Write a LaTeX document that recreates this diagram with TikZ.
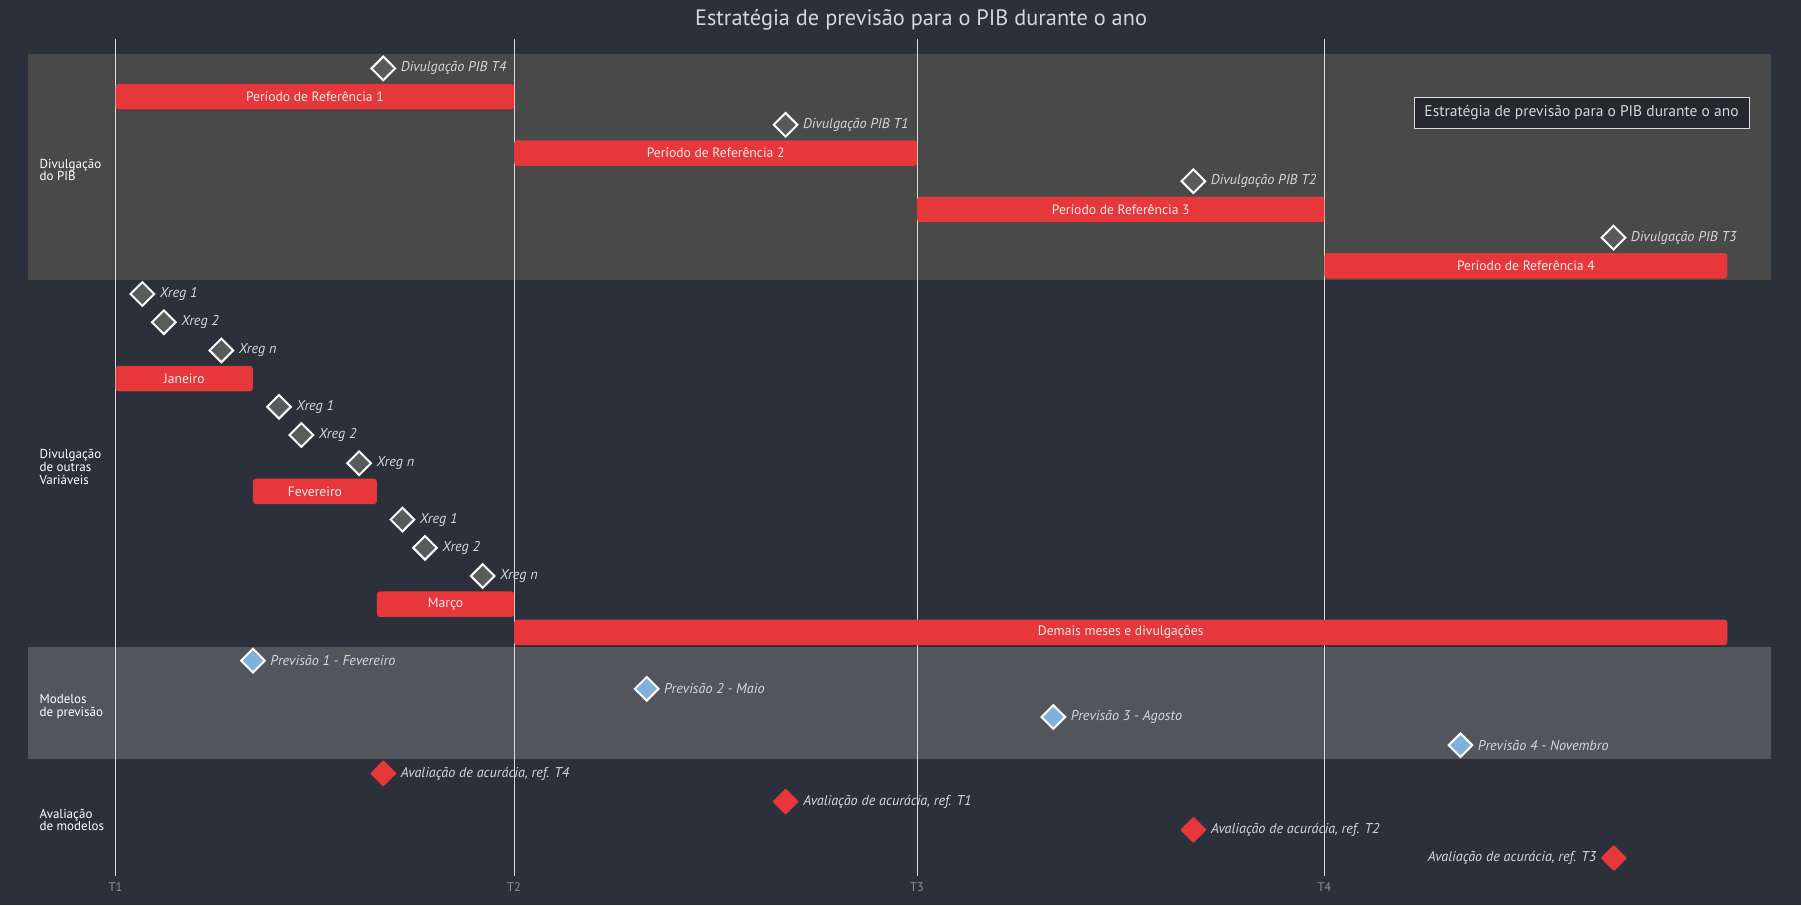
\documentclass[tikz,border=0pt]{standalone}
\usepackage{fontspec}
\setmainfont{PT Sans}
\usetikzlibrary{shapes.geometric,positioning}
\definecolor{fundo}{HTML}{2B303B}
\definecolor{secA}{HTML}{484948}
\definecolor{secC}{HTML}{52555C}
\definecolor{vermelho}{HTML}{E6373A}
\definecolor{cinzamarco}{HTML}{595A5C}
\definecolor{azulprev}{HTML}{80B0DC}
\definecolor{grade}{HTML}{DADADA}
\definecolor{textoclaro}{HTML}{D4D6DA}
\definecolor{eixo}{HTML}{8C8F96}
\definecolor{caixa}{HTML}{26282E}
\definecolor{textobarra}{HTML}{FBECEC}
\begin{document}
\begin{tikzpicture}[x=1pt, y=-1pt, every node/.style={font=\fontsize{12.5}{13}\selectfont}]
  \tikzstyle{barra}=[fill=vermelho,rounded corners=3pt,minimum height=25.5pt,inner sep=0pt,text=textobarra,font=\fontsize{13.6}{14}\selectfont]
  \tikzstyle{marco}=[diamond,draw=white,line width=2pt,fill=cinzamarco,minimum width=24.5pt,minimum height=24.5pt,inner sep=0pt]
  \tikzstyle{prev}=[marco,fill=azulprev]
  \tikzstyle{aval}=[diamond,fill=vermelho,minimum width=26.5pt,minimum height=26.5pt,inner sep=0pt,rounded corners=1pt]
  \tikzstyle{rotulo}=[text=textoclaro,inner sep=1pt,font=\fontsize{14.2}{15}\selectfont\itshape]
  \tikzstyle{secao}=[text=white,anchor=west,align=left,inner sep=0pt,font=\fontsize{13}{12.7}\selectfont]
  \useasboundingbox (0,0) rectangle (1801,905);
  \fill[fundo] (0,0) rectangle (1801,905);
  % faixas das secoes
  \fill[secA] (27.6,54.3) rectangle (1771,280);
  \fill[secC] (27.6,646.6) rectangle (1771,759.4);
  % grade trimestral
  \draw[grade,line width=0.8pt] (115.6,39.3) -- (115.6,875.7);
  \draw[grade,line width=0.8pt] (514.1,39.3) -- (514.1,875.7);
  \draw[grade,line width=0.8pt] (917.1,39.3) -- (917.1,875.7);
  \draw[grade,line width=0.8pt] (1324.4,39.3) -- (1324.4,875.7);
  \node[text=eixo] (t1) at (115.6,886.7) {T1};
  \node[text=eixo] (t2) at (514.1,886.7) {T2};
  \node[text=eixo] (t3) at (917.1,886.7) {T3};
  \node[text=eixo] (t4) at (1324.4,886.7) {T4};
  \node[text=textoclaro,font=\fontsize{22.3}{24}\selectfont] (titulo) at (921,19.5) {Estratégia de previsão para o PIB durante o ano};
  \node[draw=grade,fill=caixa,text=textoclaro,line width=0.8pt,minimum width=335pt,minimum height=31pt,font=\fontsize{15.5}{17}\selectfont] (caixa) at (1581.5,112.8) {Estratégia de previsão para o PIB durante o ano};
  % secoes
  \node[secao] (s1) at (39.4,170) {Divulgação\\do PIB};
  \node[secao] (s2) at (39.4,466.8) {Divulgação\\de outras\\Variáveis};
  \node[secao] (s3) at (39.4,707) {Modelos\\de previsão};
  \node[secao] (s4) at (39.4,820) {Avaliação\\de modelos};
  % divulgacao do PIB
  \node[marco] (pt4) at (383.3,68.4) {};
  \node[rotulo,right=3pt of pt4] (lpt4) {Divulgação PIB T4};
  \node[barra,minimum width=398.5pt] (ref1) at (314.85,96.6) {Período de Referência 1};
  \node[marco] (pt1) at (785.6,124.8) {};
  \node[rotulo,right=3pt of pt1] (lpt1) {Divulgação PIB T1};
  \node[barra,minimum width=403pt] (ref2) at (715.6,153.0) {Período de Referência 2};
  \node[marco] (pt2) at (1193.4,181.2) {};
  \node[rotulo,right=3pt of pt2] (lpt2) {Divulgação PIB T2};
  \node[barra,minimum width=407.3pt] (ref3) at (1120.75,209.4) {Período de Referência 3};
  \node[marco] (pt3) at (1613.5,237.6) {};
  \node[rotulo,right=3pt of pt3] (lpt3) {Divulgação PIB T3};
  \node[barra,minimum width=403pt] (ref4) at (1525.9,265.8) {Período de Referência 4};
  % outras variaveis
  \node[marco] (xa1) at (142.4,294.0) {};
  \node[rotulo,right=3pt of xa1] (lxa1) {Xreg 1};
  \node[marco] (xa2) at (163.8,322.2) {};
  \node[rotulo,right=3pt of xa2] (lxa2) {Xreg 2};
  \node[marco] (xan) at (221.4,350.4) {};
  \node[rotulo,right=3pt of xan] (lxan) {Xreg n};
  \node[barra,minimum width=137.3pt] (jan) at (184.25,378.6) {Janeiro};
  \node[marco] (xb1) at (279,406.8) {};
  \node[rotulo,right=3pt of xb1] (lxb1) {Xreg 1};
  \node[marco] (xb2) at (301.4,435.0) {};
  \node[rotulo,right=3pt of xb2] (lxb2) {Xreg 2};
  \node[marco] (xbn) at (359.2,463.2) {};
  \node[rotulo,right=3pt of xbn] (lxbn) {Xreg n};
  \node[barra,minimum width=124pt] (fev) at (314.9,491.4) {Fevereiro};
  \node[marco] (xc1) at (402.4,519.6) {};
  \node[rotulo,right=3pt of xc1] (lxc1) {Xreg 1};
  \node[marco] (xc2) at (425,547.8) {};
  \node[rotulo,right=3pt of xc2] (lxc2) {Xreg 2};
  \node[marco] (xcn) at (482.7,576.0) {};
  \node[rotulo,right=3pt of xcn] (lxcn) {Xreg n};
  \node[barra,minimum width=137.2pt] (mar) at (445.5,604.2) {Março};
  \node[barra,minimum width=1213.3pt] (demais) at (1120.75,632.4) {Demais meses e divulgações};
  % modelos de previsao
  \node[prev] (pv1) at (253,660.6) {};
  \node[rotulo,right=3pt of pv1] (lpv1) {Previsão 1 - Fevereiro};
  \node[prev] (pv2) at (646.7,688.8) {};
  \node[rotulo,right=3pt of pv2] (lpv2) {Previsão 2 - Maio};
  \node[prev] (pv3) at (1053.3,717.0) {};
  \node[rotulo,right=3pt of pv3] (lpv3) {Previsão 3 - Agosto};
  \node[prev] (pv4) at (1460.5,745.2) {};
  \node[rotulo,right=3pt of pv4] (lpv4) {Previsão 4 - Novembro};
  % avaliacao
  \node[aval] (av4) at (383.3,773.4) {};
  \node[rotulo,right=3pt of av4] (lav4) {Avaliação de acurácia, ref. T4};
  \node[aval] (av1) at (785.6,801.6) {};
  \node[rotulo,right=3pt of av1] (lav1) {Avaliação de acurácia, ref. T1};
  \node[aval] (av2) at (1193.4,829.8) {};
  \node[rotulo,right=3pt of av2] (lav2) {Avaliação de acurácia, ref. T2};
  \node[aval] (av3) at (1613.8,858.0) {};
  \node[rotulo,left=3pt of av3] (lav3) {Avaliação de acurácia, ref. T3};
\end{tikzpicture}
\end{document}
